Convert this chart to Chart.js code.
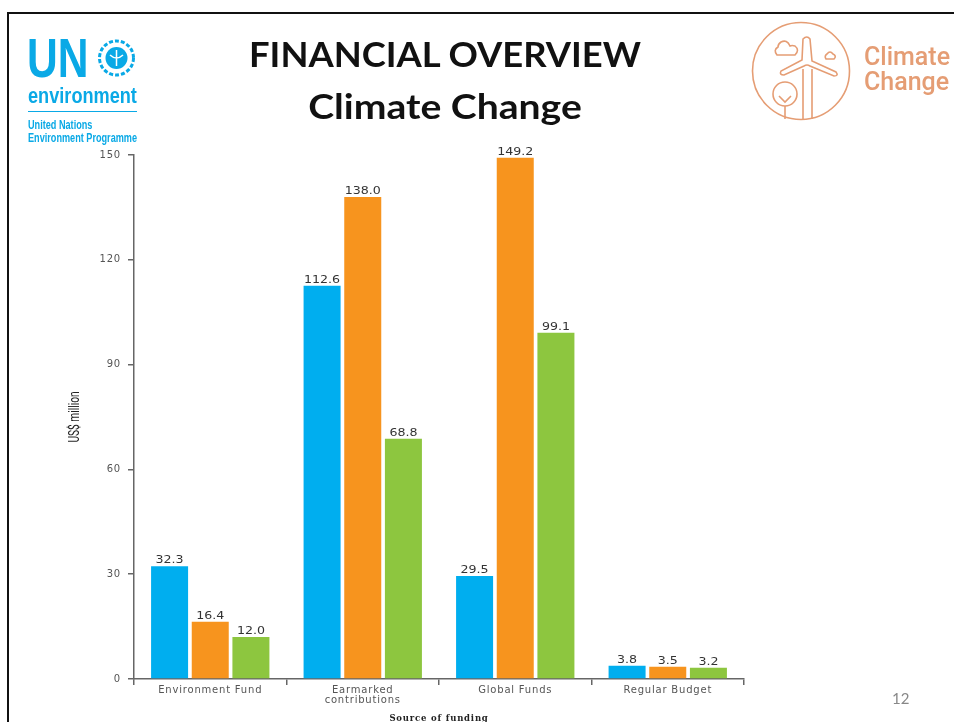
<!DOCTYPE html>
<html>
<head>
<meta charset="utf-8">
<style>
  html, body { margin: 0; padding: 0; background: #fff; overflow: hidden; }
  #page { position: relative; width: 954px; height: 722px; overflow: hidden; }
  #frame { position: absolute; left: 7px; top: 12px; width: 960px; height: 730px; border: 2px solid #111; }
  canvas { position: absolute; left: 0; top: 0; }
  .txt { position: absolute; white-space: nowrap; }
  #title1 { left: 205px; width: 480px; top: 31px; text-align: center; font: bold 34px/46px Lato, sans-serif; color: #111; transform: scaleX(1.07); }
  #title2 { left: 205px; width: 480px; top: 82px; text-align: center; font: bold 34px/48px Lato, sans-serif; color: #111; transform: scaleX(1.15); }
  #pageNo { left: 892px; top: 689px; font: 15px Lato, sans-serif; color: #888; }
  .un { color: #0AA9E6; font-family: "Liberation Sans", sans-serif; font-weight: bold; transform-origin: 0 0; }
  .cc { color: #E59D74; font: 500 25px/25px Roboto, sans-serif; left: 864px; top: 44px; }
  svg { position: absolute; left: 0; top: 0; }
</style>
</head>
<body>
<div id="page">
  <canvas id="fundingChart" width="954" height="722"></canvas>
  <div id="frame"></div>
  <div id="title1" class="txt">FINANCIAL OVERVIEW</div>
  <div id="title2" class="txt">Climate Change</div>
  <div id="pageNo" class="txt">12</div>

  <div class="txt un" style="left:27px;top:28px;font-size:56px;line-height:60px;transform:scaleX(.76);">UN</div>
  <div class="txt un" style="left:28px;top:83px;font-size:22px;line-height:26px;transform:scaleX(.825);">environment</div>
  <div class="txt un" style="left:28px;top:119px;font-size:12.5px;line-height:13px;transform:scaleX(.73);">United Nations<br>Environment Programme</div>
  <div class="txt cc">Climate<br>Change</div>

  <svg width="954" height="722" fill="none">
    <line x1="28" y1="111.5" x2="137" y2="111.5" stroke="#0AA9E6" stroke-width="1.2"/>
    <!-- UN emblem -->
    <circle cx="116.5" cy="58" r="17" stroke="#0AA9E6" stroke-width="3" stroke-dasharray="4 2"/>
    <circle cx="116.5" cy="58" r="11" fill="#0AA9E6"/>
    <path d="M116.5 50v16M110 55q6.500 6 13 0" stroke="#fff" stroke-width="1.500"/>
    <!-- climate change emblem -->
    <g stroke="#E59D74" stroke-width="1.600">
      <circle cx="801" cy="71" r="48.500"/>
      <path d="M803 39q4 -4 7 0l2 22 24 11q3 4 -2 4l-24 -10q-3 -2 -6 0l-20 9q-5 0 -3 -4l21 -11z"/>
      <path d="M803 69v50M812 69v50"/>
      <path d="M777 55h18q5 -5 0 -9q-3 -1 -5 0q-3 -7 -9 -4q-3 2 -3 5q-5 3 -1 8z"/>
      <path d="M826 59h8q3 -3 -1 -5q-3 -4 -6 0q-3 2 -1 5z"/>
      <circle cx="785" cy="94" r="12"/>
      <path d="M785 106v13M779 96l6 6 6 -6"/>
    </g>
  </svg>
</div>

<script src="https://cdn.jsdelivr.net/npm/chart.js@4"></script>
<script>
const categories = ["Environment Fund", ["Earmarked", "contributions"], "Global Funds", "Regular Budget"];
const seriesBlue = [32.3, 112.6, 29.5, 3.8];
const seriesOrange = [16.4, 138.0, 149.2, 3.5];
const seriesGreen = [12.0, 68.8, 99.1, 3.2];

// value above each bar, plus the squeezed y title (no narrow font installed)
const barValuesPlugin = {
	id: 'barValuesPlugin',
	// tick labels in the picture are stretched wide
	beforeDraw(chart) {
		chart.ctx.letterSpacing = "0.8px";
	},
	afterDatasetsDraw(chart) {
		const { ctx, data } = chart;
		ctx.save();
		ctx.letterSpacing = "0px";
		ctx.font = "10.5px 'DejaVu Sans', sans-serif";
		ctx.fillStyle = "#333";
		ctx.textAlign = "center";
		data.datasets.forEach((ds, d) => {
			chart.getDatasetMeta(d).data.forEach((bar, i) => {
				ctx.save();
				ctx.translate(bar.x, bar.y - 3);
				ctx.scale(1.2, 1);
				ctx.fillText(ds.data[i].toFixed(1), 0, 0);
				ctx.restore();
			});
		});

		const yScale = chart.scales.y;
		ctx.translate(yScale.left + 15, yScale.top + yScale.height * 0.5);
		ctx.rotate(-Math.PI / 2);
		ctx.scale(0.68, 1);
		ctx.font = "15px Roboto, sans-serif";
		ctx.fillStyle = "#222";
		ctx.textBaseline = "middle";
		ctx.fillText("US$ million", 0, 0);
		ctx.restore();
	}
};

const axisColor = "#666";
const tickFont = { family: "'DejaVu Sans', sans-serif", size: 10 };

new Chart(document.getElementById("fundingChart").getContext("2d"), {
	type: "bar",
	data: {
		labels: categories,
		datasets: [
			{ label: "Series 1", data: seriesBlue, backgroundColor: "#00AEEF" },
			{ label: "Series 2", data: seriesOrange, backgroundColor: "#F7941E" },
			{ label: "Series 3", data: seriesGreen, backgroundColor: "#8DC63F" }
		]
	},
	options: {
		responsive: false,
		animation: false,
		layout: { padding: { left: 60, right: 210, top: 155, bottom: 0 } },
		datasets: { bar: { categoryPercentage: 0.8, barPercentage: 0.91 } },
		scales: {
			x: {
				grid: { drawOnChartArea: false, color: axisColor, tickLength: 6, lineWidth: 1.5 },
				border: { color: axisColor, width: 1.5 },
				ticks: { color: "#555", font: { ...tickFont, lineHeight: 0.95 }, padding: 1, maxRotation: 0, autoSkip: false },
				title: {
					display: true,
					text: "Source of funding",
					color: "#222",
					font: { family: "'DejaVu Serif', serif", size: 8.5, weight: "bold" },
					padding: { top: 0, bottom: -2 }
				},
				afterFit(scale) { scale.height = 43; }
			},
			y: {
				min: 0,
				max: 150,
				grid: { drawOnChartArea: false, color: axisColor, tickLength: 6, lineWidth: 1.5 },
				border: { color: axisColor, width: 1.5 },
				ticks: { stepSize: 30, color: "#555", font: tickFont, padding: 7 },
				afterFit(scale) { scale.width = 74; }
			}
		},
		plugins: {
			legend: { display: false },
			tooltip: { enabled: false }
		}
	},
	plugins: [barValuesPlugin]
});
</script>
</body>
</html>
